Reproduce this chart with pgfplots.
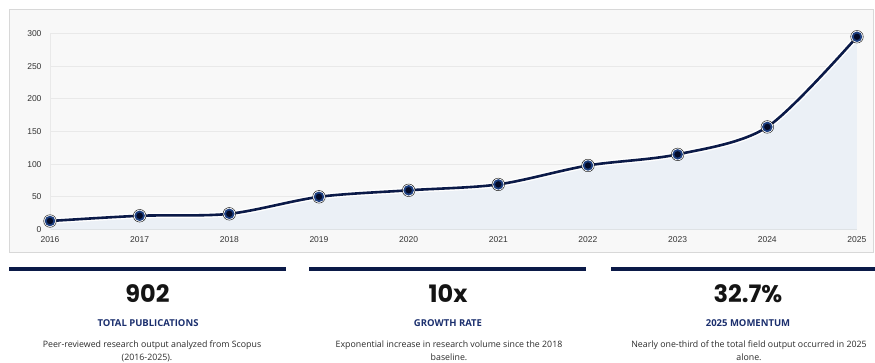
\documentclass[border=0pt]{standalone}
\usepackage{fontspec}
\setmainfont{Open Sans}
\newfontfamily\tickfont{Liberation Sans}
\newfontfamily\numfont{Poppins}
\usepackage{pgfplots}
\usepackage{pgfplotstable}
\pgfplotsset{compat=1.18}
\definecolor{panel}{HTML}{F8F8F8}
\definecolor{panelborder}{HTML}{D8D8D8}
\definecolor{gridgray}{HTML}{E9E9E9}
\definecolor{axisgray}{HTML}{C8C8C8}
\definecolor{areafill}{HTML}{EBF0F6}
\definecolor{navy}{HTML}{0B1A48}
\definecolor{markfill}{HTML}{040B28}
\definecolor{markring}{HTML}{1D3F80}
\definecolor{labelnavy}{HTML}{1B2F6E}
\definecolor{ticktext}{HTML}{333333}
\definecolor{desc}{HTML}{2A2A2A}
\pgfplotstableread{
year pubs
2016 13
2017 21
2018 24
2019 50
2020 60
2021 69
2022 98
2023 115
2024 157
2025 295
}\pubdata
\begin{document}
\begin{tikzpicture}[x=1pt,y=1pt]
\path[use as bounding box] (0,0) rectangle (875,362);
\filldraw[fill=panel, draw=panelborder, line width=1pt] (9.5,352.5) rectangle (873,110);
\begin{axis}[
  at={(50pt,132.5pt)}, anchor=south west,
  scale only axis, width=807pt, height=196pt,
  xmin=2016, xmax=2025, ymin=0, ymax=300,
  xtick={2016,2017,...,2025}, ytick={0,50,...,300},
  axis x line*=bottom, axis y line*=left,
  x axis line style={-, draw=axisgray, line width=1.5pt},
  y axis line style={-, draw=gridgray, line width=1pt},
  ymajorgrids, grid style={gridgray, line width=0.8pt},
  major tick style={draw=none},
  /pgf/number format/1000 sep={},
  /pgf/number format/assume math mode=true,
  tick label style={font=\tickfont\fontsize{8.5}{10}\selectfont, text=ticktext},
  yticklabel style={xshift=-5pt},
  xticklabel style={yshift=-4pt},
  clip=false,
]
\addplot[fill=areafill, draw=none, smooth, tension=0.5] table[x=year,y=pubs] {\pubdata} \closedcycle;
\addplot[white, line width=5.5pt, smooth, tension=0.5] table[x=year,y=pubs] {\pubdata};
\addplot[navy, line width=2.6pt, smooth, tension=0.5] table[x=year,y=pubs] {\pubdata};
\addplot[only marks, mark=*, mark size=6.3pt, mark options={fill=white, draw=none}] table[x=year,y=pubs] {\pubdata};
\addplot[only marks, mark=*, mark size=4.3pt, mark options={fill=markfill, draw=markring, line width=1.8pt}] table[x=year,y=pubs] {\pubdata};
\end{axis}
% stat cards
\fill[navy] (9.3,90.7) rectangle (286,94.7);
\fill[navy] (309.3,90.7) rectangle (586,94.7);
\fill[navy] (610.7,90.7) rectangle (875,94.7);
\node[anchor=base, inner sep=0, font=\numfont\bfseries\fontsize{24}{28}\selectfont, text=black!92] at (147.5,59.3) {902};
\node[anchor=base, inner sep=0, font=\numfont\bfseries\fontsize{24}{28}\selectfont, text=black!92] at (448,59.3) {10x};
\node[anchor=base, inner sep=0, font=\numfont\bfseries\fontsize{24}{28}\selectfont, text=black!92] at (748,59.3) {32.7\%};
\node[anchor=base, inner sep=0, font=\bfseries\fontsize{9.5}{11}\selectfont, text=labelnavy] at (148,36) {TOTAL PUBLICATIONS};
\node[anchor=base, inner sep=0, font=\bfseries\fontsize{9.5}{11}\selectfont, text=labelnavy] at (448,36) {GROWTH RATE};
\node[anchor=base, inner sep=0, font=\bfseries\fontsize{9.5}{11}\selectfont, text=labelnavy] at (748,36) {2025 MOMENTUM};
\node[anchor=base, inner sep=0, font=\fontsize{8.8}{10}\selectfont, text=desc] at (152,14.3) {Peer-reviewed research output analyzed from Scopus};
\node[anchor=base, inner sep=0, font=\fontsize{8.8}{10}\selectfont, text=desc] at (147,1.5) {(2016-2025).};
\node[anchor=base, inner sep=0, font=\fontsize{8.8}{10}\selectfont, text=desc] at (449,14.3) {Exponential increase in research volume since the 2018};
\node[anchor=base, inner sep=0, font=\fontsize{8.8}{10}\selectfont, text=desc] at (449,1.5) {baseline.};
\node[anchor=base, inner sep=0, font=\fontsize{8.8}{10}\selectfont, text=desc] at (749,14.3) {Nearly one-third of the total field output occurred in 2025};
\node[anchor=base, inner sep=0, font=\fontsize{8.8}{10}\selectfont, text=desc] at (749,1.5) {alone.};
\end{tikzpicture}
\end{document}
